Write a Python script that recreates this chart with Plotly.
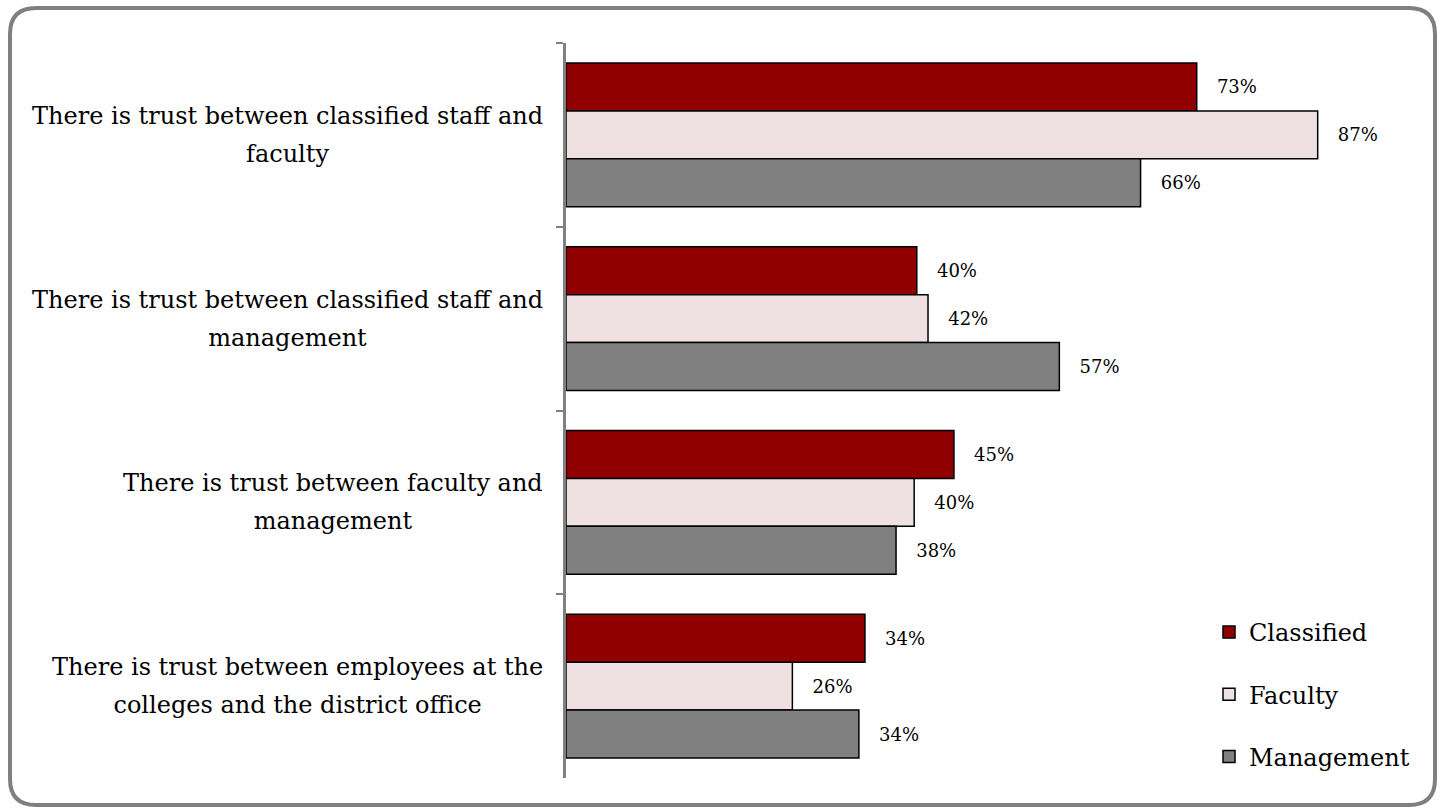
import plotly.graph_objects as go

categories = [
    "There is trust between classified staff and<br>faculty",
    "There is trust between classified staff and<br>management",
    "There is trust between faculty and<br>management",
    "There is trust between employees at the<br>colleges and the district office",
]
series_names = ["Classified", "Faculty", "Management"]
classified = [73.0, 40.6, 44.9, 34.6]
faculty = [87.0, 41.9, 40.3, 26.2]
management = [66.5, 57.1, 38.2, 33.9]
classified_labels = ["73%", "40%", "45%", "34%"]
faculty_labels = ["87%", "42%", "40%", "26%"]
management_labels = ["66%", "57%", "38%", "34%"]

colors = ["#900000", "#EFE1E1", "#808080"]
values = [classified, faculty, management]
labels = [classified_labels, faculty_labels, management_labels]

W, H = 1442, 810
L, R, T, B = 566, 12, 43, 32
pw, ph = W - L - R, H - T - B

def px(x):
    return (x - L) / pw

def py(y):
    return (H - B - y) / ph

font = "DejaVu Serif"

fig = go.Figure()
for name, vals, labs, col in zip(series_names, values, labels, colors):
    fig.add_trace(go.Bar(
        y=categories, x=vals, orientation="h", name=name,
        marker=dict(color=col, line=dict(color="#000000", width=1.5)),
        text=labs, texttemplate="\u00a0\u00a0\u00a0%{text}", textposition="outside",
        textfont=dict(family=font, size=18, color="#000000"),
        cliponaxis=False, legendgroup=name,
    ))

# category labels, lines centred on each other, block right-aligned to the axis
for cat in categories:
    fig.add_annotation(
        xref="paper", yref="y", x=px(545), y=cat, xanchor="right", yanchor="middle",
        align="center", showarrow=False,
        text="<br>".join(f'<span style="font-size:24px">{ln}</span>' for ln in cat.split("<br>")),
        font=dict(family=font, size=29, color="#000000"),
    )

# rounded border
x0, x1, y0, y1, r = 10, 1435, 8, 805, 26
path = (f"M {px(x0+r)},{py(y0)} L {px(x1-r)},{py(y0)} Q {px(x1)},{py(y0)} {px(x1)},{py(y0+r)} "
        f"L {px(x1)},{py(y1-r)} Q {px(x1)},{py(y1)} {px(x1-r)},{py(y1)} "
        f"L {px(x0+r)},{py(y1)} Q {px(x0)},{py(y1)} {px(x0)},{py(y1-r)} "
        f"L {px(x0)},{py(y0+r)} Q {px(x0)},{py(y0)} {px(x0+r)},{py(y0)} Z")
fig.add_shape(type="path", xref="paper", yref="paper", path=path,
              line=dict(color="#7F7F7F", width=4), layer="below")

fig.update_layout(
    width=W, height=H,
    margin=dict(l=L, r=R, t=T, b=B),
    plot_bgcolor="white", paper_bgcolor="white",
    barmode="group", bargap=0.217, bargroupgap=0,
    font=dict(family=font, color="#000000"),
    showlegend=True,
    legend=dict(x=px(1209), y=py(610), xanchor="left", yanchor="top",
                font=dict(family=font, size=24, color="#000000"),
                traceorder="grouped", tracegroupgap=28, bgcolor="rgba(0,0,0,0)",
                itemwidth=30),
    xaxis=dict(visible=False, range=[0, 100]),
    yaxis=dict(autorange="reversed", showline=True, linecolor="#808080", linewidth=2.5,
               ticks="outside", ticklen=7, tickcolor="#808080", tickwidth=2,
               tickson="boundaries", showgrid=False, showticklabels=False),
)

fig.write_html("out.html")
